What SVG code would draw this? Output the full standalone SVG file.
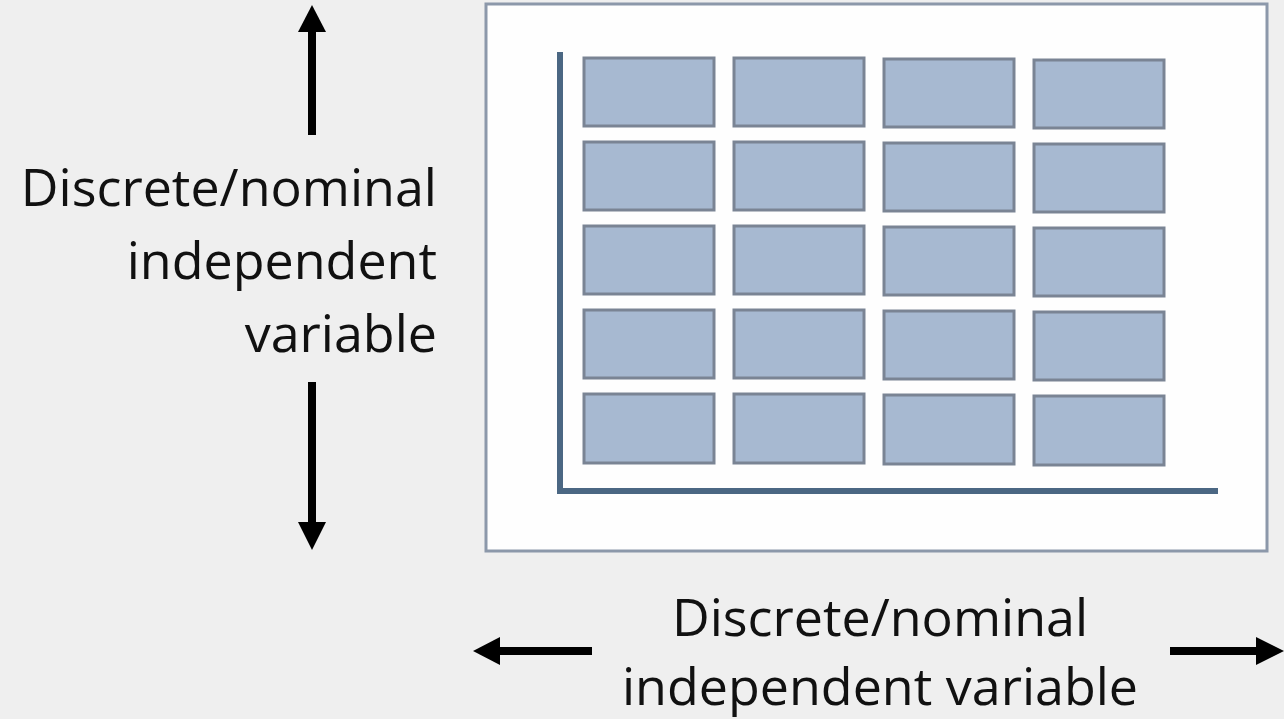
<svg xmlns="http://www.w3.org/2000/svg" width="1284" height="719" viewBox="0 0 1284 719">
  <defs>
    <style>
      .cell { fill: #a7b9d1; stroke: #7a8494; stroke-width: 3; }
      .axis { stroke: #4b6783; stroke-width: 6; fill: none; }
      .label { font-family: "Open Sans", "Liberation Sans", sans-serif; font-size: 52px; fill: #111; }
      .arrow { stroke: #000; stroke-width: 8; fill: none; }
      .head { fill: #000; }
    </style>
  </defs>
  <rect width="1284" height="719" fill="#efefef"/>

  <!-- chart frame -->
  <g id="frame">
    <rect x="486" y="4" width="781" height="547" fill="#fefefe" stroke="#8c98aa" stroke-width="3"/>
  </g>

  <!-- grid of category cells -->
  <g id="cells">
    <rect class="cell" x="584" y="58" width="130" height="68"/>
    <rect class="cell" x="734" y="58" width="130" height="68"/>
    <rect class="cell" x="884" y="59" width="130" height="68"/>
    <rect class="cell" x="1034" y="60" width="130" height="68"/>

    <rect class="cell" x="584" y="142" width="130" height="68"/>
    <rect class="cell" x="734" y="142" width="130" height="68"/>
    <rect class="cell" x="884" y="143" width="130" height="68"/>
    <rect class="cell" x="1034" y="144" width="130" height="68"/>

    <rect class="cell" x="584" y="226" width="130" height="68"/>
    <rect class="cell" x="734" y="226" width="130" height="68"/>
    <rect class="cell" x="884" y="227" width="130" height="68"/>
    <rect class="cell" x="1034" y="228" width="130" height="68"/>

    <rect class="cell" x="584" y="310" width="130" height="68"/>
    <rect class="cell" x="734" y="310" width="130" height="68"/>
    <rect class="cell" x="884" y="311" width="130" height="68"/>
    <rect class="cell" x="1034" y="312" width="130" height="68"/>

    <rect class="cell" x="584" y="394" width="130" height="69"/>
    <rect class="cell" x="734" y="394" width="130" height="69"/>
    <rect class="cell" x="884" y="395" width="130" height="69"/>
    <rect class="cell" x="1034" y="396" width="130" height="69"/>
  </g>

  <!-- axes -->
  <g id="axes">
    <path class="axis" d="M560 52 V491 H1218"/>
  </g>

  <!-- direction arrows -->
  <g id="connectors">
    <line class="arrow" x1="312" y1="135" x2="312" y2="28"/>
    <polygon class="head" points="312,5 298,32 326,32"/>
    <line class="arrow" x1="312" y1="382" x2="312" y2="526"/>
    <polygon class="head" points="312,550 298,522 326,522"/>
    <line class="arrow" x1="592" y1="651" x2="496" y2="651"/>
    <polygon class="head" points="473,651 500,637 500,665"/>
    <line class="arrow" x1="1170" y1="651" x2="1260" y2="651"/>
    <polygon class="head" points="1284,651 1256,637 1256,665"/>
  </g>

  <!-- axis labels -->
  <g id="label-vertical">
    <text class="label" text-anchor="end" x="437" y="206">Discrete/nominal</text>
    <text class="label" text-anchor="end" x="437" y="279">independent</text>
    <text class="label" text-anchor="end" x="437" y="352">variable</text>
  </g>
  <g id="label-horizontal">
    <text class="label" text-anchor="middle" x="880" y="636">Discrete/nominal</text>
    <text class="label" text-anchor="middle" x="880" y="705">independent variable</text>
  </g>
</svg>
